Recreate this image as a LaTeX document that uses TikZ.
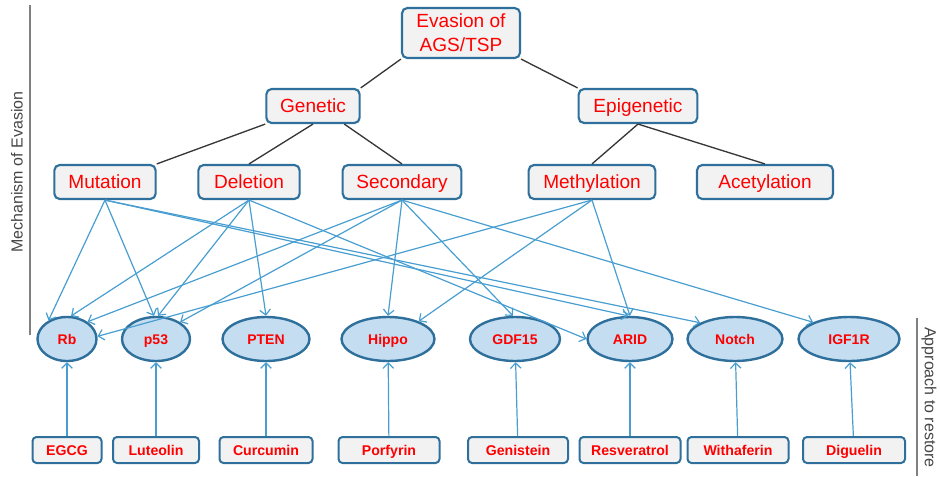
\documentclass[tikz,border=0pt]{standalone}
\usepackage{fontspec}
\setmainfont{Liberation Sans}
\usetikzlibrary{shapes.geometric,arrows.meta}
\definecolor{boxline}{RGB}{46,112,155}
\definecolor{boxfill}{RGB}{242,242,242}
\definecolor{genefill}{RGB}{196,221,241}
\definecolor{hitblue}{RGB}{72,158,208}
\definecolor{treeline}{RGB}{55,55,55}
\definecolor{sidegray}{RGB}{70,70,70}
\begin{document}
\begin{tikzpicture}[x=0.75pt,y=-0.75pt,
  mech/.style={draw=boxline,line width=1.6pt,rounded corners=4pt,fill=boxfill,text=red,font=\fontsize{14.3}{18}\selectfont,inner sep=0pt,minimum height=25.5pt,text height=12pt,text depth=1.7pt},
  gene/.style={ellipse,draw=boxline,line width=1.8pt,fill=genefill,text=red,font=\fontsize{10.5}{12}\selectfont\bfseries,inner sep=0pt,minimum height=33pt,text height=8.5pt,text depth=1pt},
  drug/.style={draw=boxline,line width=1.5pt,rounded corners=3pt,fill=boxfill,text=red,font=\fontsize{10.6}{12}\selectfont\bfseries,inner sep=0pt,minimum height=19.5pt,text height=8.6pt,text depth=1pt},
  tree/.style={draw=treeline,line width=1pt},
  hit/.style={draw=hitblue,line width=0.9pt,-{Straight Barb[length=4pt,width=8pt]}},
  side/.style={text=sidegray,font=\fontsize{12}{14}\selectfont,inner sep=0pt}]
\useasboundingbox (0,0) rectangle (940,476);
\draw[gray,line width=1.5pt] (30,5) -- (30,335);
\draw[gray,line width=1.5pt] (917,318) -- (917,476);
\node[side,rotate=90] (mechlabel) at (17,172) {Mechanism of Evasion};
\node[side,rotate=-90,anchor=west] (approachlabel) at (929,327) {Approach to restore};

\node[mech,align=center,minimum width=88.5pt,minimum height=37.5pt,text height=,text depth=] (evasion) at (461,33) {Evasion of\\AGS/TSP};
\node[mech,minimum width=70pt] (genetic) at (313,106) {Genetic};
\node[mech,minimum width=89pt] (epigenetic) at (638,106) {Epigenetic};
\node[mech,minimum width=76pt] (mutation) at (105,182) {Mutation};
\node[mech,minimum width=76pt] (deletion) at (249,182) {Deletion};
\node[mech,minimum width=89pt] (secondary) at (402,182) {Secondary};
\node[mech,minimum width=95pt] (methylation) at (592,182) {Methylation};
\node[mech,minimum width=102pt] (acetylation) at (765,182) {Acetylation};

\node[gene,minimum width=44.25pt] (rb) at (67,339) {Rb};
\node[gene,minimum width=51pt] (p53) at (156,339) {p53};
\node[gene,minimum width=65.25pt] (pten) at (266,339) {PTEN};
\node[gene,minimum width=69.75pt] (hippo) at (388,339) {Hippo};
\node[gene,minimum width=67.5pt] (gdf) at (515,339) {GDF15};
\node[gene,minimum width=63.75pt] (arid) at (630,339) {ARID};
\node[gene,minimum width=71.25pt] (notch) at (735,339) {Notch};
\node[gene,minimum width=75.75pt] (igf) at (849,339) {IGF1R};

\node[drug,minimum width=51.75pt] (egcg) at (67,450) {EGCG};
\node[drug,minimum width=64.5pt] (luteolin) at (156,450) {Luteolin};
\node[drug,minimum width=69.75pt] (curcumin) at (266,450) {Curcumin};
\node[drug,minimum width=75.75pt] (porfyrin) at (389,450) {Porfyrin};
\node[drug,minimum width=75pt] (genistein) at (518,450) {Genistein};
\node[drug,minimum width=75.75pt] (resveratrol) at (630,450) {Resveratrol};
\node[drug,minimum width=75.75pt] (withaferin) at (738,450) {Withaferin};
\node[drug,minimum width=76.5pt] (diguelin) at (854,450) {Diguelin};

\draw[tree] (evasion.south west) -- (genetic.north east);
\draw[tree] (evasion.south east) -- (epigenetic.north west);
\draw[tree] (genetic.south west) -- (mutation.north east);
\draw[tree] (genetic.south) -- (deletion.north);
\draw[tree] (genetic.-30) -- (secondary.north);
\draw[tree] (epigenetic.south) -- (methylation.north);
\draw[tree] (epigenetic.south) -- (acetylation.north);

\draw[hit] (mutation.south) -- (rb.135);
\draw[hit] (mutation.south) -- (p53.95);
\draw[hit] (mutation.south) -- (arid.95);
\draw[hit] (mutation.south) -- (notch.155);
\draw[hit] (deletion.south) -- (rb.80);
\draw[hit] (deletion.south) -- (p53.85);
\draw[hit] (deletion.south) -- (pten.north);
\draw[hit] (deletion.south) -- (arid.180);
\draw[hit] (secondary.south) -- (rb.40);
\draw[hit] (secondary.south) -- (p53.35);
\draw[hit] (secondary.south) -- (hippo.north);
\draw[hit] (secondary.south) -- (gdf.95);
\draw[hit] (secondary.south) -- (igf.155);
\draw[hit] (methylation.south) -- (rb.5);
\draw[hit] (methylation.south) -- (hippo.30);
\draw[hit] (methylation.south) -- (arid.north);

\draw[hit] (egcg) -- (rb);
\draw[hit] (luteolin) -- (p53);
\draw[hit] (curcumin) -- (pten);
\draw[hit] (porfyrin) -- (hippo);
\draw[hit] (genistein) -- (gdf);
\draw[hit] (resveratrol) -- (arid);
\draw[hit] (withaferin) -- (notch);
\draw[hit] (diguelin) -- (igf);
\end{tikzpicture}
\end{document}
